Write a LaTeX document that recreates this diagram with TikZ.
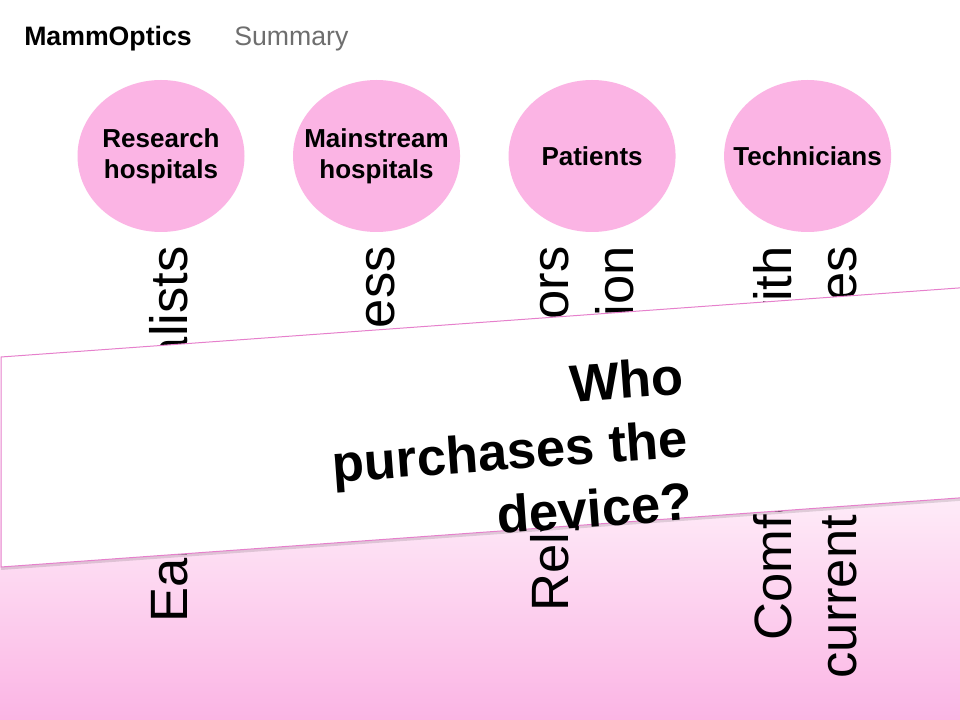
\documentclass[tikz,border=0pt]{standalone}
\usepackage{fontspec}
\setmainfont{Liberation Sans}
\usepackage{tikz}
\usetikzlibrary{shapes.geometric, positioning}
\definecolor{segpink}{RGB}{251,180,228}
\definecolor{edgepink}{RGB}{230,128,204}
\definecolor{crumbgray}{RGB}{110,110,110}
\tikzstyle{segment} = [ellipse, minimum width=125.25pt, minimum height=114pt, inner sep=-18pt, fill=segpink, align=center, font=\fontsize{19.5}{23.25}\selectfont\bfseries]
\tikzstyle{need} = [rotate=90, inner sep=0pt, align=right, font=\fontsize{39.4}{48.75}\selectfont]
\tikzstyle{question} = [rotate=4.15, inner sep=0pt, align=right, font=\fontsize{39.4}{47.25}\selectfont\bfseries]
\tikzstyle{crumb} = [anchor=base west, inner sep=0pt, font=\fontsize{20}{24}\selectfont]

\begin{document}
\begin{tikzpicture}[x=0.75pt, y=-0.75pt]
    \clip (0,0) rectangle (960,720);
    \fill[white] (0,0) rectangle (960,720);
    \shade[top color=white, bottom color=segpink] (0,420) rectangle (960,720);

    \node (brand) [crumb] at (24,46) {\bfseries MammOptics};
    \node (section) [crumb, text=crumbgray] at (234,46) {Summary};

    \node (research) [segment] at (161,156) {Research\\hospitals};
    \node (mainstream) [segment, right=36pt of research] {Mainstream\\hospitals};
    \node (patients) [segment, right=36pt of mainstream] {Patients};
    \node (technicians) [segment, right=36pt of patients] {Technicians};

    % needs of each segment, partly under the banner
    \node (need1) [need, anchor=base east] at (187,246) {Early specialists};
    \node (need2) [need, anchor=base east] at (394,246) {Awareness};
    \node (need3) [need, anchor=base east] at (633,246) {Rely on doctors\\decision};
    \node (need4) [need, anchor=base east] at (856,246) {Comfortable with\\current techniques};

    % banner
    \fill[black, opacity=0.12] (1,360) -- (1000,288) -- (1000,498) -- (1,570) -- cycle;
    \filldraw[fill=white, draw=edgepink, line width=0.75pt] (1,357) -- (1000,285) -- (1000,495) -- (1,567) -- cycle;
    \node (ask) [question, anchor=east] at (688,438) {Who\\purchases the\\device?};
\end{tikzpicture}
\end{document}
